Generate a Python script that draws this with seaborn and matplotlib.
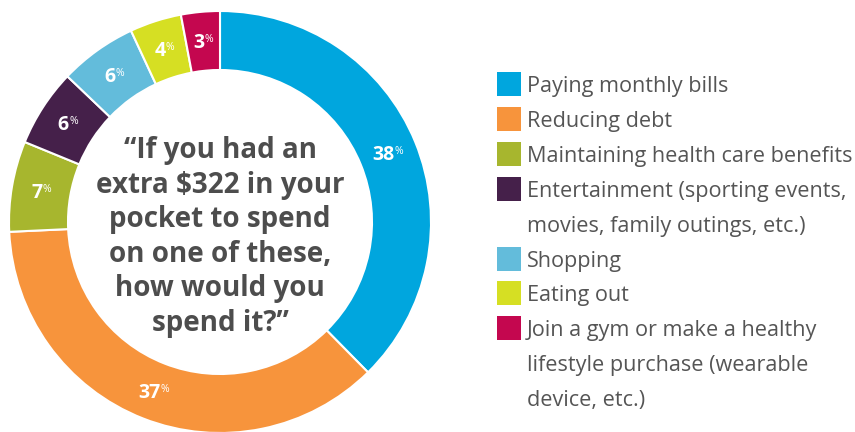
import matplotlib
matplotlib.use("Agg")
import matplotlib.pyplot as plt
import matplotlib.transforms as mtransforms
from matplotlib.patches import Rectangle
import numpy as np
import seaborn as sns

# ---- data ----
categories = [
    "Paying monthly bills",
    "Reducing debt",
    "Maintaining health care benefits",
    "Entertainment (sporting events,\nmovies, family outings, etc.)",
    "Shopping",
    "Eating out",
    "Join a gym or make a healthy\nlifestyle purchase (wearable\ndevice, etc.)",
]
values = [38, 37, 7, 6, 6, 4, 3]
colors = ["#00a6de", "#f7943c", "#a7b62e", "#45204a", "#63bcdb", "#d6df23", "#c4074f"]
center_question = ["\u201cIf you had an", "extra $322 in your", "pocket to spend",
                   "on one of these,", "how would you", "spend it?\u201d"]

sns.set_theme(style="white")
FONT = ["Open Sans", "DejaVu Sans"]
plt.rcParams["font.family"] = FONT
palette = sns.color_palette(colors)

W, H = 855, 432
fig = plt.figure(figsize=(W / 100, H / 100), dpi=100)
fig.patch.set_facecolor("white")
renderer = fig.canvas.get_renderer()


def fit_size(text, target_px, weight, base=14):
    t = fig.text(0, 0, text, fontsize=base, fontweight=weight)
    w = t.get_window_extent(renderer).width
    t.remove()
    return base * target_px / w


cx, cy, R = 220, 222, 211
ax = fig.add_axes([(cx - R) / W, (H - cy - R) / H, 2 * R / W, 2 * R / H])
inner = 152 / R
wedges, _ = ax.pie(values, colors=palette, startangle=90, counterclock=False,
                   radius=1, wedgeprops=dict(width=1 - inner, edgecolor="white", linewidth=1.5))
ax.set_xlim(-1, 1)
ax.set_ylim(-1, 1)
ax.set_aspect("equal")
ax.axis("off")

px = 0.72  # points per pixel at 100 dpi
rmid = (1 + inner) / 2
for w, v in zip(wedges, values):
    ang = np.deg2rad((w.theta1 + w.theta2) / 2)
    x, y = rmid * np.cos(ang), rmid * np.sin(ang)
    nw = 22 if v >= 10 else 11
    right = (nw + 9) / 2 - 9
    ax.text(x, y, str(v), color="white", fontsize=14, fontweight="bold",
            ha="right", va="baseline",
            transform=mtransforms.offset_copy(ax.transData, fig=fig, x=right * px, y=-7 * px, units="points"))
    ax.text(x, y, "%", color="white", fontsize=7.5, fontweight="normal",
            ha="left", va="baseline",
            transform=mtransforms.offset_copy(ax.transData, fig=fig, x=(right + 0.5) * px, y=-1.2 * px, units="points"))

# centre question, one line per row
cfs = fit_size(center_question[1], 250, "bold")
qstep = 34.6
qmid = 233.5
for i, line in enumerate(center_question):
    ypx = qmid + (i - 2.5) * qstep
    fig.text(cx / W, (H - ypx) / H, line, ha="center", va="center_baseline",
             fontsize=cfs, fontweight="bold", color="#4d4d4d")

# legend
lfs = fit_size("Maintaining health care benefits", 325, "normal")
lx, ly, step = 497, 84, 34.9
sq = 24
row = 0
for lab, c in zip(categories, palette):
    yc = ly + row * step
    fig.patches.append(Rectangle((lx / W, (H - yc - sq / 2) / H), sq / W, sq / H,
                                 transform=fig.transFigure, facecolor=c, edgecolor="none"))
    for i, line in enumerate(lab.split("\n")):
        fig.text(527 / W, (H - (yc + i * step)) / H, line, fontsize=lfs,
                 color="#555555", ha="left", va="center_baseline")
    row += len(lab.split("\n"))

fig.savefig("out.png", dpi=100, facecolor="white")
